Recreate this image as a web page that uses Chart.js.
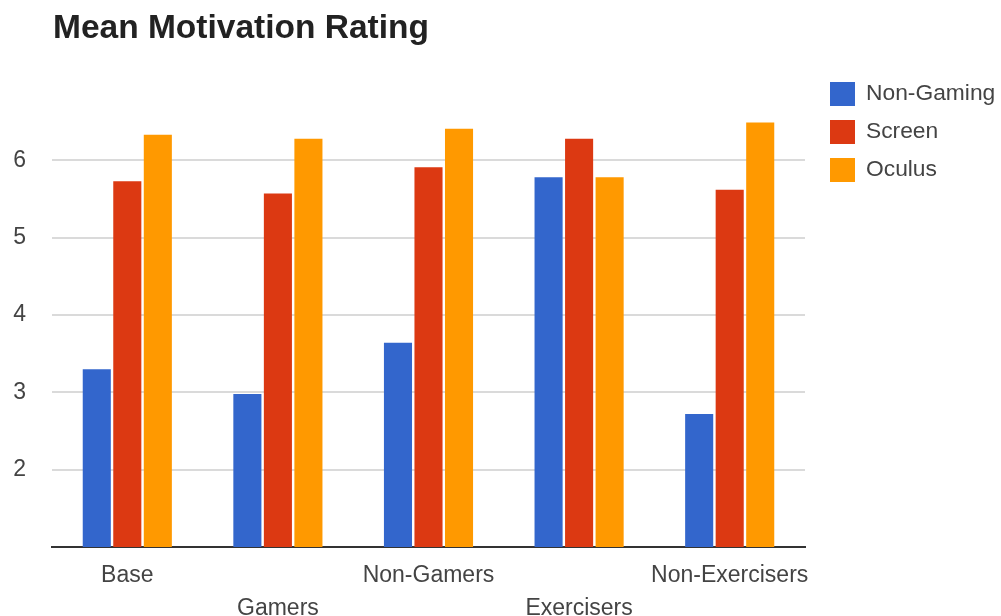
<!DOCTYPE html>
<html>
<head>
<meta charset="utf-8">
<script src="https://cdn.jsdelivr.net/npm/chart.js@4.4.1/dist/chart.umd.min.js"></script>
<style>
  html, body { margin: 0; padding: 0; background: #fff; }
  #c { display: block; }
</style>
</head>
<body>
<canvas id="c" width="1001" height="616"></canvas>
<script>
const chartTitle = 'Mean Motivation Rating';
const categories = ['Base', 'Gamers', 'Non-Gamers', 'Exercisers', 'Non-Exercisers'];
const seriesNames = ['Non-Gaming', 'Screen', 'Oculus'];
const nonGaming = [3.30, 2.98, 3.64, 5.78, 2.72];
const screen    = [5.73, 5.57, 5.91, 6.28, 5.62];
const oculus    = [6.33, 6.28, 6.41, 5.78, 6.49];
const seriesColors = ['#3366CC', '#DC3912', '#FF9900'];
const yTickLabels = [2, 3, 4, 5, 6];
const yMin = 1;
const yMax = 7;

const FONT = '"Liberation Sans", Arial, sans-serif';

// Alternate category labels between two rows so long names don't collide
const staggered = categories.map((c, i) => (i % 2 === 1 ? ['', c] : c));

// Title above the plot and a legend column at its right
const headerAndLegend = {
  id: 'headerAndLegend',
  afterDraw(chart) {
    const { ctx, chartArea } = chart;
    ctx.save();
    ctx.font = 'bold 33.5px ' + FONT;
    ctx.fillStyle = '#222';
    ctx.textBaseline = 'alphabetic';
    ctx.textAlign = 'left';
    ctx.fillText(chartTitle, chartArea.left + 1, 38);

    ctx.font = '22.8px ' + FONT;
    ctx.textBaseline = 'middle';
    chart.data.datasets.forEach((ds, i) => {
      const x = chartArea.right + 25;
      const y = chartArea.top - 1 + i * 38;
      ctx.fillStyle = ds.backgroundColor;
      ctx.fillRect(x, y, 25, 24);
      ctx.fillStyle = '#444';
      ctx.fillText(ds.label, x + 36, y + 12);
    });
    ctx.restore();
  }
};

new Chart(document.getElementById('c'), {
  type: 'bar',
  data: {
    labels: staggered,
    datasets: [
      { label: seriesNames[0], data: nonGaming, backgroundColor: seriesColors[0] },
      { label: seriesNames[1], data: screen, backgroundColor: seriesColors[1] },
      { label: seriesNames[2], data: oculus, backgroundColor: seriesColors[2] }
    ]
  },
  options: {
    responsive: false,
    animation: false,
    devicePixelRatio: 1,
    layout: { padding: { top: 83, right: 196, left: 0, bottom: 0 } },
    datasets: {
      bar: { categoryPercentage: 0.608, barPercentage: 0.92 }
    },
    plugins: {
      legend: { display: false },
      title: { display: false },
      tooltip: { enabled: false }
    },
    scales: {
      x: {
        offset: true,
        grid: { display: false, drawTicks: false },
        border: { display: true, color: '#333', width: 2 },
        ticks: {
          autoSkip: false,
          maxRotation: 0,
          minRotation: 0,
          padding: 13,
          color: '#444',
          font: { family: FONT, size: 23, lineHeight: 1.4 }
        },
        afterFit(scale) { scale.height = 69; }
      },
      y: {
        min: yMin,
        max: yMax,
        border: { display: false },
        grid: {
          drawTicks: false,
          lineWidth: 2,
          color: (c) => (yTickLabels.includes(c.tick.value) ? '#dadada' : 'rgba(0,0,0,0)')
        },
        ticks: {
          stepSize: 1,
          padding: 26,
          color: '#444',
          font: { family: FONT, size: 23 },
          callback: (v) => (yTickLabels.includes(v) ? String(v) : '')
        },
        afterFit(scale) { scale.width = 52; }
      }
    }
  },
  plugins: [headerAndLegend]
});
</script>
</body>
</html>
